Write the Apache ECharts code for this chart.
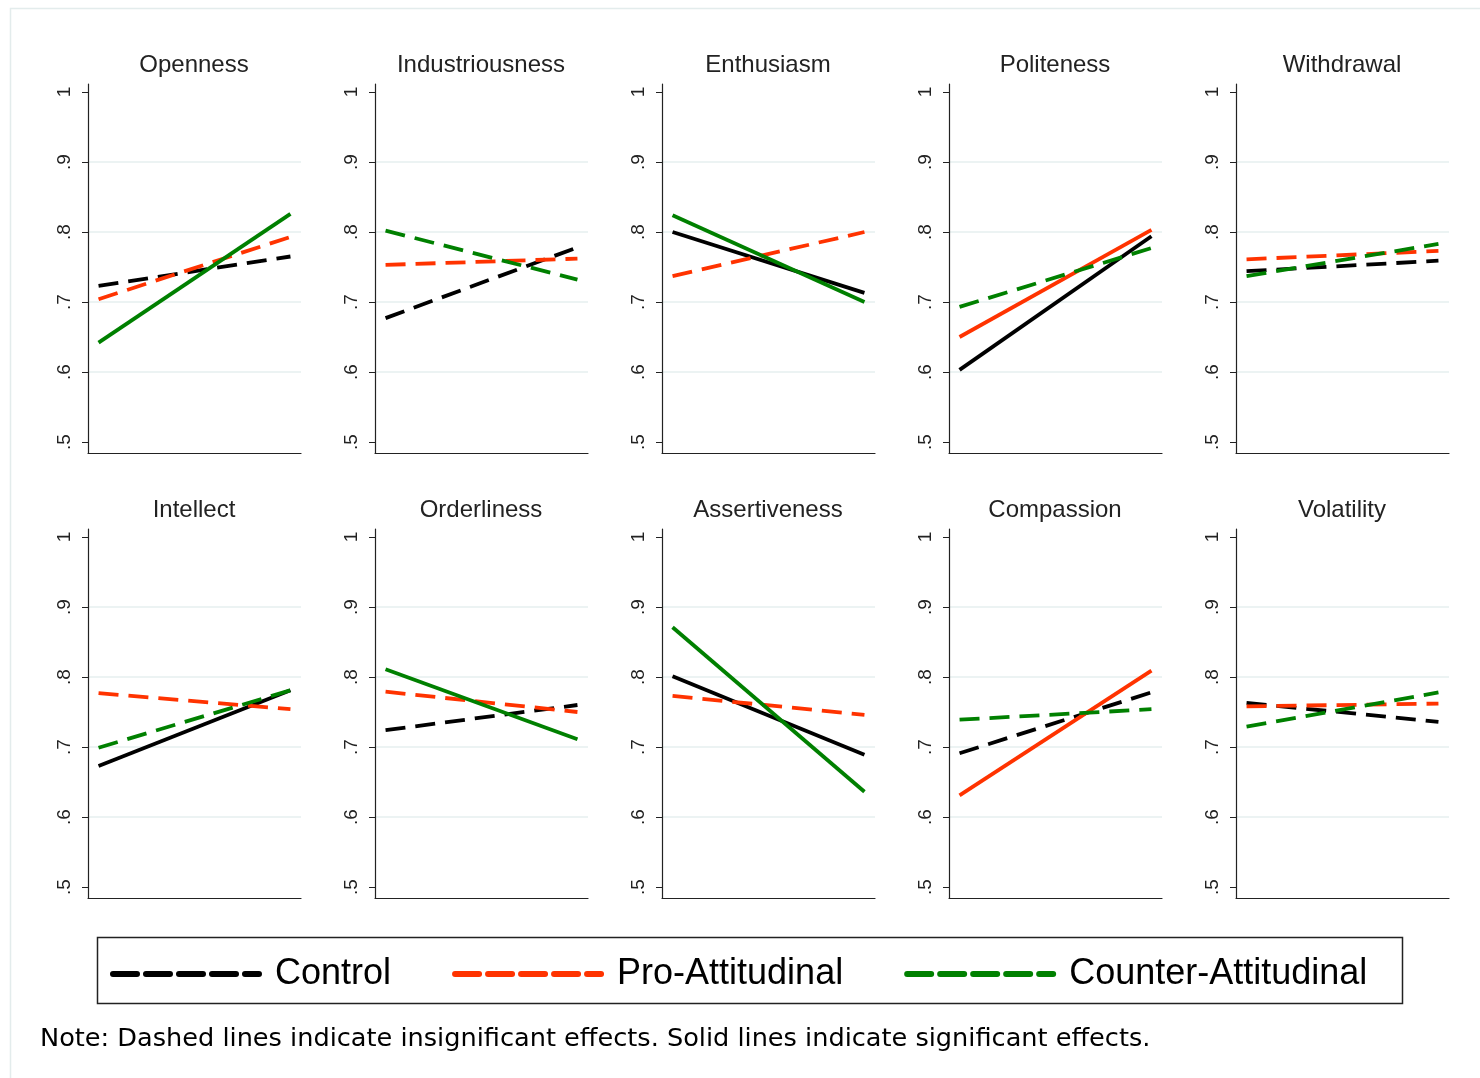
<!DOCTYPE html>
<html>
<head>
<meta charset="utf-8">
<script src="https://cdn.jsdelivr.net/npm/echarts@6/dist/echarts.min.js"></script>
<style>
  html, body { margin: 0; padding: 0; background: #fff; }
  #chart { width: 1480px; height: 1078px; }
</style>
</head>
<body>
<div id="chart"></div>
<script>
// values, one entry per trait panel
const traits = ["Openness", "Industriousness", "Enthusiasm", "Politeness", "Withdrawal",
  "Intellect", "Orderliness", "Assertiveness", "Compassion", "Volatility"]
const controlStart = [0.723, 0.677, 0.800, 0.603, 0.744, 0.673, 0.724, 0.801, 0.691, 0.763]
const controlEnd = [0.765, 0.778, 0.713, 0.794, 0.759, 0.781, 0.760, 0.689, 0.778, 0.736]
const proStart = [0.704, 0.753, 0.737, 0.650, 0.761, 0.777, 0.779, 0.773, 0.631, 0.758]
const proEnd = [0.793, 0.762, 0.800, 0.803, 0.773, 0.754, 0.750, 0.746, 0.809, 0.762]
const counterStart = [0.642, 0.802, 0.824, 0.693, 0.737, 0.699, 0.811, 0.871, 0.739, 0.729]
const counterEnd = [0.826, 0.732, 0.700, 0.777, 0.783, 0.781, 0.711, 0.636, 0.754, 0.778]
// 1 = significant effect (solid line), 0 = dashed
const controlSig = [0, 0, 1, 1, 0, 1, 0, 1, 0, 0]
const proSig = [0, 0, 0, 1, 0, 0, 0, 0, 1, 0]
const counterSig = [1, 0, 1, 0, 0, 0, 1, 1, 0, 0]
const yTicks = [0.5, 0.6, 0.7, 0.8, 0.9, 1]
const gridTicks = [0.6, 0.7, 0.8, 0.9]
const groups = ["Control", "Pro-Attitudinal", "Counter-Attitudinal"]

const colors = { "Control": "#000000", "Pro-Attitudinal": "#ff3300", "Counter-Attitudinal": "#008000" }
const font = "Liberation Sans, Arial, sans-serif"
const Y_MIN = 0.5 - 11 / 700
const Y_MAX = 1 + 8 / 700

const chart = echarts.init(document.getElementById("chart"))

const grids = [], xAxes = [], yAxes = [], titles = [], series = []

traits.forEach((name, i) => {
  const row = Math.floor(i / 5)
  const col = i % 5
  const left = 88 + col * 287
  const top = row === 0 ? 84 : 529
  grids.push({ left: left, top: top, width: 213, height: 369 })

  titles.push({
    text: name,
    left: left + 106,
    top: top - 31,
    textAlign: "center",
    padding: 0,
    textStyle: { fontFamily: font, fontSize: 24, fontWeight: "normal", color: "#222" },
  })

  xAxes.push({
    gridIndex: i,
    type: "value",
    min: -0.055,
    max: 1.055,
    axisLine: { show: true, onZero: false, lineStyle: { color: "#222", width: 1.2 } },
    axisTick: { show: false },
    axisLabel: { show: false },
    splitLine: { show: false },
  })

  // labelled axis
  yAxes.push({
    gridIndex: i,
    type: "value",
    min: Y_MIN,
    max: Y_MAX,
    axisLine: { show: true, onZero: false, lineStyle: { color: "#222", width: 1.2 } },
    axisTick: { show: true, length: 6, customValues: yTicks, lineStyle: { color: "#222" } },
    axisLabel: {
      customValues: yTicks,
      rotate: 90,
      margin: 14,
      fontFamily: font,
      fontSize: 19,
      color: "#222",
      formatter: v => (v === 1 ? "1" : String(v).replace("0.", ".")),
    },
    splitLine: { show: false },
  })
  // hidden axis that only carries the inner grid lines
  yAxes.push({
    gridIndex: i,
    type: "value",
    position: "left",
    min: Y_MIN,
    max: Y_MAX,
    axisLine: { show: false },
    axisTick: { show: false, customValues: gridTicks },
    axisLabel: { show: false },
    splitLine: { show: true, lineStyle: { color: "#e6efef", width: 1.5 } },
  })

  const sets = [
    [controlStart, controlEnd, controlSig],
    [proStart, proEnd, proSig],
    [counterStart, counterEnd, counterSig],
  ]
  sets.forEach((s, k) => {
    const g = groups[k]
    series.push({
      name: g,
      type: "line",
      xAxisIndex: i,
      yAxisIndex: i * 2,
      symbol: "none",
      silent: true,
      animation: false,
      data: [[0, s[0][i]], [1, s[1][i]]],
      lineStyle: {
        color: colors[g],
        width: 3.8,
        type: s[2][i] ? "solid" : [20, 10],
      },
      itemStyle: { color: colors[g] },
    })
  })
})

titles.push({
  text: "Note: Dashed lines indicate insignificant effects. Solid lines indicate significant effects.",
  left: 40,
  top: 1026,
  padding: 0,
  textStyle: { fontFamily: "DejaVu Sans, sans-serif", fontSize: 25.6, fontWeight: "normal", color: "#000" },
})

const option = {
  backgroundColor: "#fff",
  animation: false,
  title: titles,
  grid: grids,
  xAxis: xAxes,
  yAxis: yAxes,
  series: series,
  legend: {
    data: groups,
    left: 110,
    top: 956,
    padding: 0,
    itemWidth: 146,
    itemHeight: 20,
    itemGap: 61,
    selectedMode: false,
    itemStyle: { opacity: 0 },
    lineStyle: { width: 6, type: [24, 9], cap: "round" },
    textStyle: { fontFamily: font, fontSize: 36, color: "#000", padding: [0, 0, 0, 11] },
  },
  graphic: [
    {
      type: "rect",
      silent: true,
      shape: { x: 10.5, y: 8.5, width: 1480, height: 1100 },
      style: { fill: null, stroke: "#e3ecec", lineWidth: 1.5 },
    },
    {
      type: "rect",
      silent: true,
      shape: { x: 97.5, y: 937.5, width: 1305, height: 66 },
      style: { fill: null, stroke: "#222", lineWidth: 1.5 },
    },
  ],
}

chart.setOption(option)
</script>
</body>
</html>
